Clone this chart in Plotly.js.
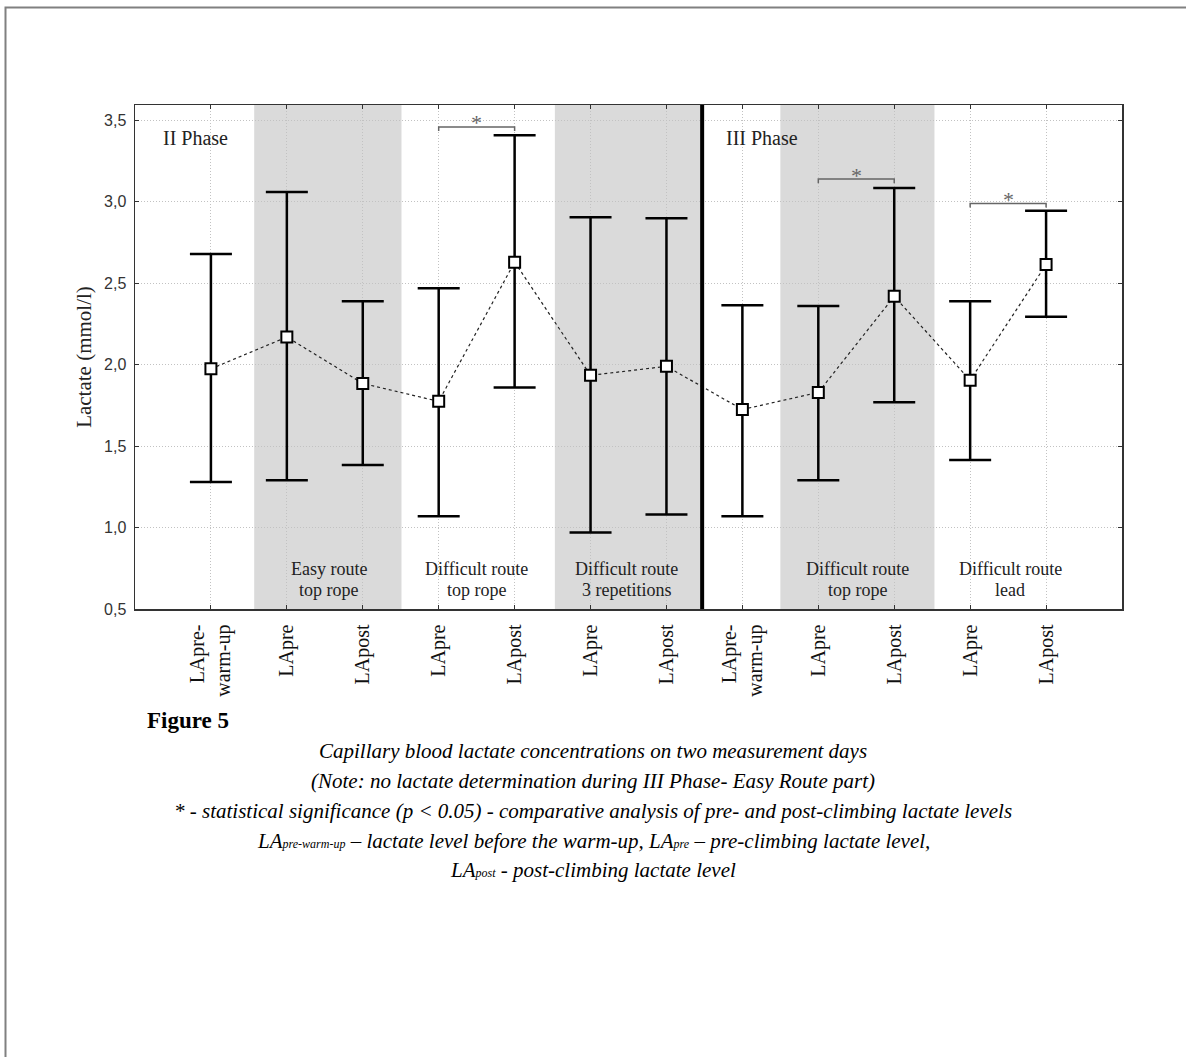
<!DOCTYPE html>
<html>
<head>
<meta charset="utf-8">
<script src="https://cdn.plot.ly/plotly-3.0.1.min.js"></script>
<style>
html,body{margin:0;padding:0;background:#fff;}
#chart{width:1186px;height:1057px;}
</style>
</head>
<body>
<div id="chart"></div>
<script>
// ---- data ----
const tickLabels = ['LApre-<br>warm-up','LApre','LApost','LApre','LApost','LApre','LApost','LApre-<br>warm-up','LApre','LApost','LApre','LApost'];
const positions = [1,2,3,4,5,6,7,8,9,10,11,12];
const means = [1.975, 2.17, 1.885, 1.775, 2.63, 1.935, 1.99, 1.725, 1.83, 2.42, 1.905, 2.615];
const upper = [2.68, 3.06, 2.39, 2.47, 3.41, 2.905, 2.90, 2.365, 2.36, 3.085, 2.39, 2.945];
const lower = [1.28, 1.29, 1.385, 1.07, 1.86, 0.97, 1.08, 1.07, 1.29, 1.77, 1.415, 2.295];
const yTickVals = [0.5, 1.0, 1.5, 2.0, 2.5, 3.0, 3.5];
const yTickText = ['0,5','1,0','1,5','2,0','2,5','3,0','3,5'];
const groupLine1 = ['Easy route','Difficult route','Difficult route','Difficult route','Difficult route'];
const groupLine2 = ['top rope','top rope','3 repetitions','top rope','lead'];
const groupCenters = [2.55, 4.5, 6.48, 9.52, 11.53];
const bands = [[1.57, 3.51], [5.53, 7.47], [8.50, 10.53]];
const phaseLabels = ['II Phase', 'III Phase'];
const phaseX = [0.80, 8.26];
const phaseDivider = 7.47;
const sigPairs = [[4, 5], [9, 10], [11, 12]];
const sigLevels = [3.46, 3.14, 2.99];
const captionTitle = 'Figure 5';
const captionLines = [
  'Capillary blood lactate concentrations on two measurement days',
  '(Note: no lactate determination during III Phase- Easy Route part)',
  '* - statistical significance (p &lt; 0.05) - comparative analysis of pre- and post-climbing lactate levels',
  'LA<span style="font-size:12px">pre-warm-up</span> – lactate level before the warm-up, LA<span style="font-size:12px">pre</span> – pre-climbing lactate level,',
  'LA<span style="font-size:12px">post</span> - post-climbing lactate level'
];

// ---- layout geometry ----
const W = 1186, H = 1057;
const L = 135, R = 1122, T = 105, B = 609;
const px2x = p => (p - L) / (R - L);
const py2y = p => (B - p) / (B - T);

const serif = 'Liberation Serif, Times New Roman, serif';
const sans = 'Liberation Sans, Arial, sans-serif';

const errPlus = upper.map((u, i) => u - means[i]);
const errMinus = lower.map((l, i) => means[i] - l);

const traces = [
  {x: positions, y: means, type: 'scatter', mode: 'lines',
   line: {color: '#222', width: 1.2, dash: '3px,3px'}, hoverinfo: 'skip', showlegend: false},
  {x: positions, y: means, type: 'scatter', mode: 'markers',
   marker: {symbol: 'square', size: 11, color: '#fff', line: {color: '#000', width: 2}},
   error_y: {type: 'data', symmetric: false, array: errPlus, arrayminus: errMinus,
             color: '#000', thickness: 2.5, width: 21},
   showlegend: false}
];

const shapes = [];
bands.forEach(b => shapes.push({type: 'rect', xref: 'x', yref: 'paper', x0: b[0], x1: b[1], y0: 0, y1: 1,
  fillcolor: '#dadada', line: {width: 0}, layer: 'below'}));
shapes.push({type: 'line', xref: 'x', yref: 'paper', x0: phaseDivider, x1: phaseDivider, y0: 0, y1: 1,
  line: {color: '#000', width: 4}, layer: 'above'});
sigPairs.forEach((p, i) => {
  const y = sigLevels[i], d = 0.025;
  shapes.push({type: 'path', xref: 'x', yref: 'y',
    path: `M ${p[0]} ${y - d} L ${p[0]} ${y} L ${p[1]} ${y} L ${p[1]} ${y - d}`,
    line: {color: '#666', width: 1.5}});
});
// outer frame (left and top)
shapes.push({type: 'path', xref: 'paper', yref: 'paper',
  path: `M ${px2x(5.5)} ${py2y(H + 5)} L ${px2x(5.5)} ${py2y(7.5)} L ${px2x(W + 5)} ${py2y(7.5)}`,
  line: {color: '#808080', width: 2}});

const annotations = [];
groupLine1.forEach((t, i) => annotations.push({x: groupCenters[i], y: py2y(568.5), xref: 'x', yref: 'paper',
  text: t, showarrow: false, font: {family: serif, size: 18, color: '#222'}, yanchor: 'middle', borderpad: 0}));
groupLine2.forEach((t, i) => annotations.push({x: groupCenters[i], y: py2y(589.5), xref: 'x', yref: 'paper',
  text: t, showarrow: false, font: {family: serif, size: 18, color: '#222'}, yanchor: 'middle', borderpad: 0}));
phaseLabels.forEach((t, i) => annotations.push({x: phaseX[i], y: 3.39, xref: 'x', yref: 'y',
  text: t, showarrow: false, font: {family: serif, size: 20, color: '#222'}}));
sigPairs.forEach((p, i) => annotations.push({x: (p[0] + p[1]) / 2, y: sigLevels[i], xref: 'x', yref: 'y',
  text: '*', showarrow: false, yanchor: 'middle', yshift: 4, font: {family: serif, size: 22, color: '#666'}}));
annotations.push({x: px2x(145), y: py2y(720), xref: 'paper', yref: 'paper', xanchor: 'left', yanchor: 'middle',
  text: '<b>' + captionTitle + '</b>', showarrow: false, font: {family: serif, size: 23, color: '#000'}});
const capY = [751, 781, 811, 841, 870];
captionLines.forEach((t, i) => annotations.push({x: px2x(593), y: py2y(capY[i]), xref: 'paper', yref: 'paper',
  xanchor: 'center', yanchor: 'middle', text: '<i>' + t + '</i>', showarrow: false,
  font: {family: serif, size: 21, color: '#000'}}));

const layout = {
  width: W, height: H,
  margin: {l: L, r: W - R, t: T, b: H - B, pad: 0},
  paper_bgcolor: '#fff', plot_bgcolor: 'rgba(0,0,0,0)',
  showlegend: false,
  xaxis: {
    range: [0, 13], tickmode: 'array', tickvals: positions, ticktext: tickLabels,
    tickangle: -90, tickfont: {family: serif, size: 20, color: '#111'},
    showgrid: true, gridcolor: '#c2c2c2', griddash: '1px,2px', gridwidth: 1,
    showline: true, linecolor: '#333', linewidth: 1.5, mirror: 'ticks',
    ticks: 'inside', ticklen: 4, tickcolor: '#333', zeroline: false,
    automargin: false, ticklabelstandoff: 6
  },
  yaxis: {
    range: [0.5, 3.595], tickmode: 'array', tickvals: yTickVals, ticktext: yTickText,
    tickfont: {family: sans, size: 16, color: '#333'},
    showgrid: true, gridcolor: '#c2c2c2', griddash: '1px,2px', gridwidth: 1,
    showline: true, linecolor: '#333', linewidth: 1.5, mirror: 'ticks',
    ticks: 'inside', ticklen: 4, tickcolor: '#333', zeroline: false,
    automargin: false, ticklabelstandoff: 4,
    title: {text: 'Lactate (mmol/l)', font: {family: serif, size: 21, color: '#222'}, standoff: 6}
  },
  shapes: shapes,
  annotations: annotations
};

Plotly.newPlot('chart', traces, layout, {displayModeBar: false, staticPlot: true});
</script>
</body>
</html>
